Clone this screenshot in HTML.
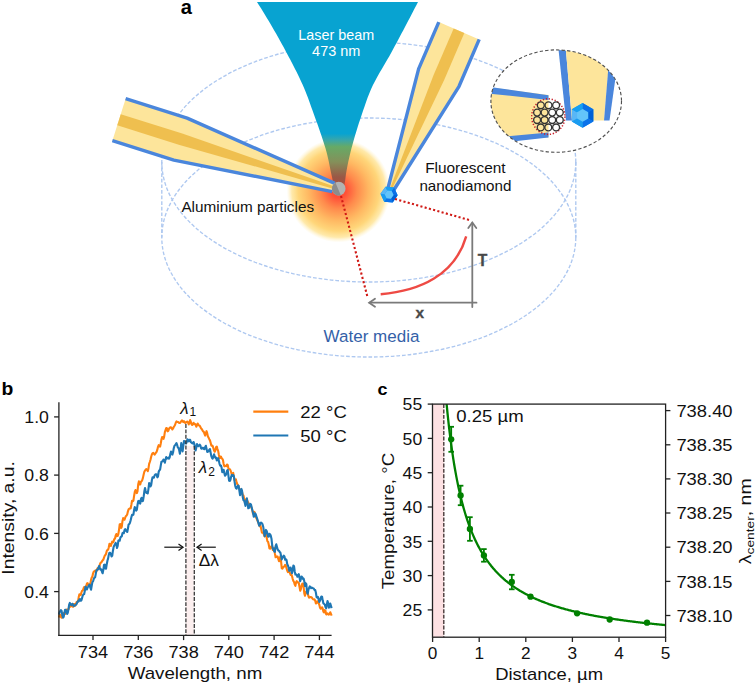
<!DOCTYPE html>
<html><head><meta charset="utf-8"><style>
html,body{margin:0;padding:0;background:#fff;}
svg{display:block;}
</style></head><body>
<svg width="755" height="686" viewBox="0 0 755 686">
<defs>
<radialGradient id="glow" cx="0.5" cy="0.5" r="0.5">
<stop offset="0" stop-color="#ff4232"/>
<stop offset="0.14" stop-color="#ff5038"/>
<stop offset="0.35" stop-color="#ff8a4c"/>
<stop offset="0.58" stop-color="#ffb862"/>
<stop offset="0.78" stop-color="#ffd67a"/>
<stop offset="0.9" stop-color="#ffe28e" stop-opacity="0.75"/>
<stop offset="1" stop-color="#fff0c0" stop-opacity="0"/>
</radialGradient>
<linearGradient id="beam" gradientUnits="userSpaceOnUse" x1="0" y1="2" x2="0" y2="190">
<stop offset="0" stop-color="#08a3d1"/>
<stop offset="0.70" stop-color="#08a3d1"/>
<stop offset="0.735" stop-color="#3aa6a8"/>
<stop offset="0.77" stop-color="#66aa66"/>
<stop offset="0.85" stop-color="#84905a"/>
<stop offset="0.93" stop-color="#9a5846"/>
<stop offset="1" stop-color="#b0483c"/>
</linearGradient>
</defs>
<rect width="755" height="686" fill="#fff"/>
<g fill="none" stroke="#aec8f0" stroke-width="1.35" stroke-dasharray="3.7 1.9">
<ellipse cx="368.8" cy="162" rx="207" ry="120"/>
<ellipse cx="368.8" cy="237.5" rx="207" ry="119.5"/>
<line x1="161.8" y1="162" x2="161.8" y2="237.5"/>
<line x1="575.8" y1="162" x2="575.8" y2="237.5"/>
</g>
<circle cx="338.6" cy="190.5" r="52" fill="url(#glow)"/>
<path d="M257.00,2.00 L259.01,5.19 L261.00,8.37 L262.98,11.56 L264.93,14.75 L266.86,17.93 L268.76,21.12 L270.65,24.31 L272.52,27.49 L274.36,30.68 L276.19,33.86 L277.99,37.05 L279.77,40.24 L281.54,43.42 L283.28,46.61 L285.00,49.80 L286.70,52.98 L288.39,56.17 L290.08,59.36 L291.75,62.54 L293.40,65.73 L295.03,68.92 L296.64,72.10 L298.21,75.29 L299.74,78.47 L301.23,81.66 L302.67,84.85 L304.07,88.03 L305.40,91.22 L306.67,94.41 L307.88,97.59 L309.05,100.78 L310.19,103.97 L311.32,107.15 L312.45,110.34 L313.59,113.53 L314.75,116.71 L315.91,119.90 L317.07,123.08 L318.21,126.27 L319.33,129.46 L320.42,132.64 L321.47,135.83 L322.53,139.02 L323.57,142.20 L324.59,145.39 L325.56,148.58 L326.46,151.76 L327.29,154.95 L328.03,158.14 L328.72,161.32 L329.37,164.51 L330.01,167.69 L330.65,170.88 L331.31,174.07 L332.03,177.25 L332.70,180.44 L333.25,183.63 L333.67,186.81 L334.00,190.00 L343.00,190.00 L343.90,186.81 L344.64,183.63 L345.16,180.44 L345.56,177.25 L345.98,174.07 L346.49,170.88 L347.07,167.69 L347.71,164.51 L348.38,161.32 L349.09,158.14 L349.82,154.95 L350.59,151.76 L351.40,148.58 L352.25,145.39 L353.14,142.20 L354.05,139.02 L354.98,135.83 L355.92,132.64 L356.90,129.46 L357.90,126.27 L358.92,123.08 L359.97,119.90 L361.04,116.71 L362.12,113.53 L363.21,110.34 L364.29,107.15 L365.38,103.97 L366.50,100.78 L367.66,97.59 L368.88,94.41 L370.18,91.22 L371.57,88.03 L373.08,84.85 L374.70,81.66 L376.40,78.47 L378.17,75.29 L379.99,72.10 L381.85,68.92 L383.72,65.73 L385.60,62.54 L387.47,59.36 L389.30,56.17 L391.08,52.98 L392.81,49.80 L394.52,46.61 L396.23,43.42 L397.94,40.24 L399.64,37.05 L401.33,33.86 L403.02,30.68 L404.71,27.49 L406.39,24.31 L408.06,21.12 L409.73,17.93 L411.40,14.75 L413.06,11.56 L414.71,8.37 L416.36,5.19 L418.00,2.00Z" fill="url(#beam)"/>
<path d="M125.63,98.72 L187.13,118.16 L334.80,183.40 L332.20,191.60 L173.87,160.12 L112.37,140.68Z" fill="#fde59b"/>
<path d="M120.75,114.17 L182.25,133.61 L333.86,186.36 L333.14,188.64 L178.75,144.67 L117.25,125.23Z" fill="#efbf4f"/>
<path d="M125.63,98.72 L187.13,118.16 L334.80,183.40" fill="none" stroke="#4a86dc" stroke-width="3.4" stroke-linejoin="round"/>
<path d="M112.37,140.68 L173.87,160.12 L332.20,191.60" fill="none" stroke="#4a86dc" stroke-width="3.4" stroke-linejoin="round"/>
<path d="M479.21,39.45 L459.05,86.29 L393.85,189.98 L388.15,187.52 L418.63,68.90 L438.79,22.05Z" fill="#fde59b"/>
<path d="M464.33,33.04 L444.17,79.89 L391.92,189.15 L390.08,188.35 L433.51,75.30 L453.67,28.46Z" fill="#efbf4f"/>
<path d="M479.21,39.45 L459.05,86.29 L393.85,189.98" fill="none" stroke="#4a86dc" stroke-width="3.4" stroke-linejoin="round"/>
<path d="M438.79,22.05 L418.63,68.90 L388.15,187.52" fill="none" stroke="#4a86dc" stroke-width="3.4" stroke-linejoin="round"/>
<g transform="translate(338.7,188.7)"><circle r="6.85" fill="#b2b2b2"/><path d="M-3.2,-6.05 A6.85,6.85 0 0 0 2.1,6.52 Z" fill="#8c8c8c"/></g>
<path d="M394.03,187.56 L397.67,195.35 L392.73,202.39 L384.17,201.64 L380.53,193.85 L385.47,186.81Z" fill="#1591ee"/>
<path d="M394.03,187.56 L397.67,195.35 L393.55,194.99 L391.67,190.94Z" fill="#0a6fe6"/>
<path d="M397.67,195.35 L392.73,202.39 L390.99,198.65 L393.55,194.99Z" fill="#0060d6"/>
<path d="M392.73,202.39 L384.17,201.64 L386.53,198.26 L390.99,198.65Z" fill="#0b72ea"/>
<path d="M384.17,201.64 L380.53,193.85 L384.65,194.21 L386.53,198.26Z" fill="#1a9cf0"/>
<path d="M380.53,193.85 L385.47,186.81 L387.21,190.55 L384.65,194.21Z" fill="#58b6f6"/>
<path d="M385.47,186.81 L394.03,187.56 L391.67,190.94 L387.21,190.55Z" fill="#16a0f2"/>
<path d="M391.67,190.94 L393.55,194.99 L390.99,198.65 L386.53,198.26 L384.65,194.21 L387.21,190.55Z" fill="#63c4fa"/>
<g stroke="#d01a16" stroke-width="2.1" stroke-dasharray="2.1 2.3" fill="none">
<line x1="341" y1="196" x2="367.5" y2="297"/>
<line x1="395" y1="199" x2="471" y2="220.5"/>
</g>
<g stroke="#7a7a7a" stroke-width="1.8" fill="none" stroke-linecap="round">
<line x1="472.3" y1="223" x2="472.3" y2="307"/>
<line x1="369.5" y1="302.7" x2="476.5" y2="302.7"/>
<polyline points="468.3,228 472.3,222.5 476.3,228"/>
<polyline points="375,298.7 369.2,302.7 375,306.7"/>
</g>
<path d="M380.7,294.2 C420,291 455,275 466.2,236.3" fill="none" stroke="#ee4a44" stroke-width="2.4"/>
<text x="482.6" y="265.7" font-family='"Liberation Sans", sans-serif' font-weight="bold" font-size="15.6" fill="#484848" stroke="#484848" stroke-width="0.35" text-anchor="middle">T</text>
<text x="419.8" y="317.5" font-family='"Liberation Sans", sans-serif' font-weight="bold" font-size="15.4" fill="#484848" stroke="#484848" stroke-width="0.35" text-anchor="middle">x</text>
<text x="186.3" y="14.4" font-family='"Liberation Sans", sans-serif' font-size="19.5" font-weight="bold" fill="#000" text-anchor="middle" textLength="11.2" lengthAdjust="spacingAndGlyphs" >a</text>
<text x="336.2" y="39.8" font-family='"Liberation Sans", sans-serif' font-size="14.5" font-weight="normal" fill="#fff" text-anchor="middle" textLength="75.8" lengthAdjust="spacingAndGlyphs" >Laser beam</text>
<text x="336.2" y="55.8" font-family='"Liberation Sans", sans-serif' font-size="14.5" font-weight="normal" fill="#fff" text-anchor="middle" textLength="48.2" lengthAdjust="spacingAndGlyphs" >473 nm</text>
<text x="181.4" y="211.9" font-family='"Liberation Sans", sans-serif' font-size="14.5" font-weight="normal" fill="#111" text-anchor="start" textLength="132.7" lengthAdjust="spacingAndGlyphs" >Aluminium particles</text>
<text x="465.4" y="172.6" font-family='"Liberation Sans", sans-serif' font-size="14.8" font-weight="normal" fill="#111" text-anchor="middle" textLength="80.5" lengthAdjust="spacingAndGlyphs" >Fluorescent</text>
<text x="465.4" y="190.5" font-family='"Liberation Sans", sans-serif' font-size="14.8" font-weight="normal" fill="#111" text-anchor="middle" textLength="92.0" lengthAdjust="spacingAndGlyphs" >nanodiamond</text>
<text x="371.5" y="341.8" font-family='"Liberation Sans", sans-serif' font-size="16.8" font-weight="normal" fill="#3461a8" text-anchor="middle" textLength="95.8" lengthAdjust="spacingAndGlyphs" >Water media</text>
<defs><clipPath id="ins"><ellipse cx="556.2" cy="101.1" rx="65.3" ry="51.2"/></clipPath></defs>
<ellipse cx="556.2" cy="101.1" rx="65.3" ry="51.2" fill="#fff"/>
<g clip-path="url(#ins)">
<path d="M480,86 L548.5,95 L548.5,137.5 L480,140 Z" fill="#fde59b"/>
<path d="M480,85.6 L548.5,95.2 L548.5,100 L480,92.6 Z" fill="#4a86dc"/>
<path d="M500,137 L548.5,132.4 L548.5,137.6 L500,143 Z" fill="#4a86dc"/>
<path d="M557.5,40 L565,40 L572,120.5 L566,120.5 Z" fill="#4a86dc"/>
<path d="M565,40 L611,40 L604,120.5 L572,120.5 Z" fill="#fde59b"/>
<path d="M609,60 L618,60 L609.5,120.5 L604,120.5 Z" fill="#4a86dc"/>
</g>
<ellipse cx="556.2" cy="101.1" rx="65.3" ry="51.2" fill="none" stroke="#505050" stroke-width="1.15" stroke-dasharray="3.3 2.2"/>
<ellipse cx="548.3" cy="116.6" rx="16.6" ry="17.8" fill="none" stroke="#c8202a" stroke-width="1.5" stroke-dasharray="1.3 1.7"/>
<g fill="none" stroke="#333" stroke-width="1.35">
<circle cx="540.8" cy="105.3" r="3.45"/>
<circle cx="548.5" cy="105.3" r="3.45"/>
<circle cx="556.1" cy="105.3" r="3.45"/>
<circle cx="537.1" cy="112.6" r="3.45"/>
<circle cx="544.6" cy="112.6" r="3.45"/>
<circle cx="552.2" cy="112.6" r="3.45"/>
<circle cx="559.8" cy="112.6" r="3.45"/>
<circle cx="537.1" cy="120.0" r="3.45"/>
<circle cx="544.6" cy="120.0" r="3.45"/>
<circle cx="552.2" cy="120.0" r="3.45"/>
<circle cx="559.8" cy="120.0" r="3.45"/>
<circle cx="540.7" cy="127.4" r="3.45"/>
<circle cx="548.3" cy="127.4" r="3.45"/>
<circle cx="556.1" cy="127.4" r="3.45"/>
</g>
<path d="M582.60,103.00 L593.34,109.20 L593.34,121.60 L582.60,127.80 L571.86,121.60 L571.86,109.20Z" fill="#1591ee"/>
<path d="M582.60,103.00 L593.34,109.20 L588.18,112.18 L582.60,108.95Z" fill="#0a6fe6"/>
<path d="M593.34,109.20 L593.34,121.60 L588.18,118.62 L588.18,112.18Z" fill="#0060d6"/>
<path d="M593.34,121.60 L582.60,127.80 L582.60,121.85 L588.18,118.62Z" fill="#0b72ea"/>
<path d="M582.60,127.80 L571.86,121.60 L577.02,118.62 L582.60,121.85Z" fill="#1a9cf0"/>
<path d="M571.86,121.60 L571.86,109.20 L577.02,112.18 L577.02,118.62Z" fill="#58b6f6"/>
<path d="M571.86,109.20 L582.60,103.00 L582.60,108.95 L577.02,112.18Z" fill="#16a0f2"/>
<path d="M582.60,108.95 L588.18,112.18 L588.18,118.62 L582.60,121.85 L577.02,118.62 L577.02,112.18Z" fill="#63c4fa"/>
<rect x="185.82" y="445.9" width="7.92" height="189.4" fill="#fcefef"/>
<path d="M58.90,617.59 L59.59,614.74 L60.27,614.70 L60.95,617.02 L61.64,617.71 L62.32,616.30 L63.01,614.45 L63.69,613.20 L64.37,613.91 L65.06,614.05 L65.74,611.09 L66.42,609.61 L67.11,609.68 L67.79,609.89 L68.47,609.53 L69.16,607.19 L69.84,605.94 L70.52,606.59 L71.21,605.87 L71.89,604.91 L72.57,606.64 L73.26,606.63 L73.94,603.96 L74.62,604.40 L75.31,605.69 L75.99,603.68 L76.68,601.87 L77.36,602.22 L78.04,601.15 L78.73,597.09 L79.41,594.33 L80.09,595.08 L80.78,595.04 L81.46,592.29 L82.14,590.67 L82.83,590.47 L83.51,588.49 L84.19,587.00 L84.88,588.31 L85.56,588.46 L86.24,586.05 L86.93,583.47 L87.61,583.14 L88.30,585.00 L88.98,585.13 L89.66,584.64 L90.35,583.70 L91.03,579.83 L91.71,577.56 L92.40,576.50 L93.08,573.32 L93.76,571.54 L94.45,571.48 L95.13,570.47 L95.81,570.60 L96.50,571.31 L97.18,568.80 L97.86,568.07 L98.55,569.25 L99.23,567.02 L99.91,564.17 L100.60,562.81 L101.28,562.52 L101.97,561.38 L102.65,560.28 L103.33,559.63 L104.02,557.55 L104.70,555.79 L105.38,555.05 L106.07,553.70 L106.75,551.00 L107.43,549.91 L108.12,549.77 L108.80,547.27 L109.48,543.78 L110.17,544.01 L110.85,546.04 L111.53,543.81 L112.22,541.63 L112.90,542.51 L113.59,541.35 L114.27,539.12 L114.95,538.66 L115.64,535.73 L116.32,534.09 L117.00,536.07 L117.69,535.90 L118.37,533.84 L119.05,529.56 L119.74,524.18 L120.42,524.14 L121.10,527.92 L121.79,526.63 L122.47,521.19 L123.15,518.14 L123.84,518.99 L124.52,519.70 L125.20,517.72 L125.89,516.05 L126.57,515.64 L127.26,514.25 L127.94,511.32 L128.62,509.30 L129.31,508.64 L129.99,508.59 L130.67,508.30 L131.36,504.78 L132.04,500.76 L132.72,501.23 L133.41,500.61 L134.09,495.95 L134.77,491.95 L135.46,490.08 L136.14,491.13 L136.82,493.09 L137.51,491.26 L138.19,484.59 L138.88,481.37 L139.56,484.47 L140.24,484.47 L140.93,481.83 L141.61,481.18 L142.29,479.97 L142.98,477.61 L143.66,474.41 L144.34,471.78 L145.03,470.57 L145.71,469.61 L146.39,469.03 L147.08,469.57 L147.76,471.17 L148.44,468.71 L149.13,463.96 L149.81,461.98 L150.49,459.78 L151.18,456.75 L151.86,454.50 L152.55,453.17 L153.23,452.91 L153.91,453.89 L154.60,454.63 L155.28,453.70 L155.96,452.60 L156.65,451.76 L157.33,449.68 L158.01,446.87 L158.70,445.21 L159.38,446.16 L160.06,446.69 L160.75,443.47 L161.43,439.49 L162.11,437.10 L162.80,437.26 L163.48,438.89 L164.17,436.71 L164.85,432.13 L165.53,430.06 L166.22,428.10 L166.90,428.33 L167.58,431.31 L168.27,430.89 L168.95,428.82 L169.63,427.82 L170.32,427.32 L171.00,427.24 L171.68,428.36 L172.37,429.50 L173.05,428.52 L173.73,427.01 L174.42,425.96 L175.10,424.76 L175.78,422.72 L176.47,421.41 L177.15,421.70 L177.84,421.94 L178.52,422.45 L179.20,423.03 L179.89,423.01 L180.57,422.33 L181.25,421.19 L181.94,420.40 L182.62,421.26 L183.30,422.05 L183.99,421.22 L184.67,422.10 L185.35,423.01 L186.04,422.39 L186.72,421.87 L187.40,421.54 L188.09,422.85 L188.77,424.43 L189.46,422.76 L190.14,420.12 L190.82,421.75 L191.51,424.22 L192.19,424.89 L192.87,424.00 L193.56,422.78 L194.24,424.29 L194.92,424.04 L195.61,424.37 L196.29,426.74 L196.97,425.32 L197.66,423.57 L198.34,424.62 L199.02,425.43 L199.71,425.71 L200.39,426.97 L201.07,428.42 L201.76,429.10 L202.44,430.27 L203.13,431.58 L203.81,431.82 L204.49,433.88 L205.18,435.58 L205.86,433.22 L206.54,431.13 L207.23,433.42 L207.91,436.48 L208.59,437.57 L209.28,439.18 L209.96,440.38 L210.64,442.80 L211.33,445.62 L212.01,445.41 L212.69,446.09 L213.38,448.29 L214.06,450.45 L214.74,451.76 L215.43,450.33 L216.11,447.09 L216.80,446.65 L217.48,449.00 L218.16,450.83 L218.85,454.78 L219.53,458.18 L220.21,456.89 L220.90,456.48 L221.58,458.26 L222.26,458.66 L222.95,459.96 L223.63,463.93 L224.31,466.31 L225.00,465.81 L225.68,465.98 L226.36,466.20 L227.05,464.50 L227.73,465.07 L228.42,468.36 L229.10,469.23 L229.78,469.19 L230.47,470.25 L231.15,472.28 L231.83,474.67 L232.52,473.99 L233.20,472.98 L233.88,476.40 L234.57,480.04 L235.25,479.72 L235.93,479.44 L236.62,482.40 L237.30,484.12 L237.98,484.85 L238.67,487.51 L239.35,488.49 L240.03,490.04 L240.72,491.59 L241.40,490.31 L242.09,492.20 L242.77,495.20 L243.45,495.49 L244.14,498.18 L244.82,501.74 L245.50,501.23 L246.19,499.33 L246.87,499.43 L247.55,501.19 L248.24,502.62 L248.92,503.76 L249.60,504.56 L250.29,504.82 L250.97,506.49 L251.65,508.14 L252.34,510.21 L253.02,513.73 L253.71,513.82 L254.39,511.92 L255.07,513.87 L255.76,516.75 L256.44,518.24 L257.12,519.81 L257.81,521.38 L258.49,522.91 L259.17,525.09 L259.86,526.36 L260.54,525.92 L261.22,528.94 L261.91,532.64 L262.59,532.74 L263.27,532.77 L263.96,534.52 L264.64,536.39 L265.32,533.40 L266.01,532.07 L266.69,537.77 L267.38,541.14 L268.06,541.75 L268.74,544.49 L269.43,548.26 L270.11,548.72 L270.79,547.00 L271.48,546.23 L272.16,546.99 L272.84,550.04 L273.53,549.32 L274.21,548.13 L274.89,553.42 L275.58,557.23 L276.26,556.94 L276.94,556.50 L277.63,556.64 L278.31,558.94 L279.00,561.30 L279.68,559.28 L280.36,556.39 L281.05,561.19 L281.73,568.13 L282.41,568.66 L283.10,567.27 L283.78,566.93 L284.46,566.09 L285.15,564.89 L285.83,565.73 L286.51,568.17 L287.20,570.51 L287.88,572.05 L288.56,571.60 L289.25,571.11 L289.93,573.21 L290.61,574.82 L291.30,574.51 L291.98,576.02 L292.67,578.85 L293.35,580.93 L294.03,582.00 L294.72,584.58 L295.40,585.84 L296.08,582.22 L296.77,581.12 L297.45,582.52 L298.13,582.27 L298.82,583.02 L299.50,586.89 L300.18,590.68 L300.87,589.31 L301.55,585.79 L302.23,583.75 L302.92,583.48 L303.60,586.97 L304.29,593.46 L304.97,595.82 L305.65,593.06 L306.34,591.47 L307.02,591.96 L307.70,593.45 L308.39,595.99 L309.07,597.69 L309.75,597.26 L310.44,597.11 L311.12,597.09 L311.80,597.40 L312.49,598.62 L313.17,599.33 L313.85,599.53 L314.54,599.37 L315.22,600.74 L315.90,603.50 L316.59,603.12 L317.27,601.35 L317.96,602.25 L318.64,603.13 L319.32,604.71 L320.01,607.71 L320.69,608.76 L321.37,607.92 L322.06,607.25 L322.74,608.78 L323.42,611.80 L324.11,612.46 L324.79,610.13 L325.47,610.81 L326.16,614.41 L326.84,614.44 L327.52,613.46 L328.21,614.02 L328.89,614.62 L329.58,613.47 L330.26,612.26 L330.94,613.83 L331.63,615.69" fill="none" stroke="#ff7f0e" stroke-width="2.1" stroke-linejoin="round"/>
<path d="M58.90,614.57 L59.59,612.11 L60.27,611.22 L60.95,610.17 L61.64,610.98 L62.32,615.41 L63.01,617.71 L63.69,616.78 L64.37,613.00 L65.06,609.71 L65.74,609.69 L66.42,611.96 L67.11,614.04 L67.79,612.74 L68.47,609.12 L69.16,604.56 L69.84,602.86 L70.52,604.33 L71.21,605.21 L71.89,604.15 L72.57,603.80 L73.26,605.62 L73.94,606.05 L74.62,605.24 L75.31,605.24 L75.99,604.74 L76.68,603.82 L77.36,602.04 L78.04,601.10 L78.73,601.31 L79.41,599.36 L80.09,599.07 L80.78,600.74 L81.46,600.34 L82.14,597.80 L82.83,595.32 L83.51,594.45 L84.19,594.07 L84.88,590.61 L85.56,586.66 L86.24,588.23 L86.93,589.52 L87.61,587.50 L88.30,586.52 L88.98,585.18 L89.66,584.57 L90.35,587.77 L91.03,589.76 L91.71,585.89 L92.40,582.10 L93.08,581.33 L93.76,578.92 L94.45,577.52 L95.13,577.40 L95.81,573.61 L96.50,570.27 L97.18,569.99 L97.86,569.50 L98.55,567.20 L99.23,565.97 L99.91,568.63 L100.60,569.73 L101.28,569.27 L101.97,571.79 L102.65,573.22 L103.33,569.88 L104.02,564.99 L104.70,564.56 L105.38,568.45 L106.07,568.68 L106.75,564.19 L107.43,560.80 L108.12,558.38 L108.80,554.78 L109.48,552.69 L110.17,552.79 L110.85,553.92 L111.53,556.42 L112.22,555.81 L112.90,550.97 L113.59,547.10 L114.27,545.45 L114.95,544.31 L115.64,542.82 L116.32,544.35 L117.00,547.93 L117.69,545.97 L118.37,540.67 L119.05,540.22 L119.74,540.65 L120.42,537.53 L121.10,536.71 L121.79,536.32 L122.47,533.13 L123.15,532.77 L123.84,533.26 L124.52,530.00 L125.20,529.07 L125.89,530.31 L126.57,531.14 L127.26,531.99 L127.94,528.43 L128.62,524.51 L129.31,523.94 L129.99,522.64 L130.67,520.30 L131.36,517.26 L132.04,514.74 L132.72,515.07 L133.41,514.65 L134.09,510.02 L134.77,507.07 L135.46,508.67 L136.14,510.67 L136.82,509.88 L137.51,505.05 L138.19,501.20 L138.88,500.79 L139.56,503.13 L140.24,503.54 L140.93,499.09 L141.61,497.77 L142.29,501.15 L142.98,500.95 L143.66,496.64 L144.34,491.34 L145.03,488.08 L145.71,491.00 L146.39,492.82 L147.08,492.31 L147.76,493.29 L148.44,489.11 L149.13,483.14 L149.81,483.65 L150.49,486.38 L151.18,485.11 L151.86,480.27 L152.55,477.20 L153.23,477.61 L153.91,477.59 L154.60,475.47 L155.28,474.56 L155.96,474.28 L156.65,474.54 L157.33,477.31 L158.01,476.32 L158.70,471.74 L159.38,470.28 L160.06,469.71 L160.75,465.56 L161.43,461.80 L162.11,461.60 L162.80,461.13 L163.48,459.50 L164.17,460.62 L164.85,462.67 L165.53,459.62 L166.22,456.97 L166.90,458.60 L167.58,458.30 L168.27,457.70 L168.95,458.72 L169.63,457.49 L170.32,454.01 L171.00,451.47 L171.68,452.56 L172.37,454.61 L173.05,452.54 L173.73,448.37 L174.42,445.93 L175.10,445.10 L175.78,444.18 L176.47,443.16 L177.15,444.89 L177.84,447.54 L178.52,447.87 L179.20,450.18 L179.89,453.77 L180.57,449.34 L181.25,443.16 L181.94,447.25 L182.62,451.42 L183.30,446.18 L183.99,440.96 L184.67,441.46 L185.35,442.86 L186.04,443.58 L186.72,442.27 L187.40,439.38 L188.09,439.90 L188.77,441.34 L189.46,439.89 L190.14,439.87 L190.82,442.16 L191.51,442.63 L192.19,443.28 L192.87,443.47 L193.56,442.00 L194.24,443.65 L194.92,447.68 L195.61,450.41 L196.29,447.68 L196.97,444.08 L197.66,445.50 L198.34,446.19 L199.02,445.53 L199.71,444.66 L200.39,445.40 L201.07,448.33 L201.76,448.77 L202.44,447.71 L203.13,447.83 L203.81,448.95 L204.49,449.17 L205.18,447.01 L205.86,445.73 L206.54,448.77 L207.23,451.89 L207.91,451.69 L208.59,451.27 L209.28,449.72 L209.96,449.05 L210.64,452.63 L211.33,456.22 L212.01,457.99 L212.69,458.62 L213.38,456.74 L214.06,454.23 L214.74,456.46 L215.43,457.83 L216.11,457.56 L216.80,460.44 L217.48,459.73 L218.16,458.11 L218.85,460.73 L219.53,463.84 L220.21,465.58 L220.90,465.44 L221.58,467.53 L222.26,472.20 L222.95,471.69 L223.63,469.75 L224.31,473.01 L225.00,475.80 L225.68,475.08 L226.36,473.54 L227.05,470.74 L227.73,470.01 L228.42,475.68 L229.10,480.82 L229.78,480.91 L230.47,479.68 L231.15,476.58 L231.83,474.94 L232.52,475.95 L233.20,475.15 L233.88,476.32 L234.57,481.65 L235.25,486.00 L235.93,488.15 L236.62,488.64 L237.30,486.74 L237.98,485.53 L238.67,485.96 L239.35,490.64 L240.03,495.12 L240.72,492.39 L241.40,488.91 L242.09,491.00 L242.77,497.29 L243.45,500.17 L244.14,500.19 L244.82,503.11 L245.50,505.92 L246.19,502.44 L246.87,498.39 L247.55,503.17 L248.24,508.28 L248.92,508.01 L249.60,505.92 L250.29,503.91 L250.97,504.50 L251.65,507.24 L252.34,510.12 L253.02,512.75 L253.71,516.59 L254.39,516.50 L255.07,513.26 L255.76,514.33 L256.44,516.46 L257.12,518.68 L257.81,520.87 L258.49,523.27 L259.17,525.78 L259.86,524.73 L260.54,522.71 L261.22,522.61 L261.91,523.33 L262.59,524.42 L263.27,526.92 L263.96,531.82 L264.64,536.14 L265.32,533.72 L266.01,529.91 L266.69,531.08 L267.38,533.40 L268.06,536.54 L268.74,536.66 L269.43,533.85 L270.11,534.32 L270.79,535.77 L271.48,538.67 L272.16,544.99 L272.84,548.77 L273.53,548.52 L274.21,551.41 L274.89,551.81 L275.58,546.07 L276.26,544.30 L276.94,546.73 L277.63,549.25 L278.31,550.54 L279.00,550.81 L279.68,551.92 L280.36,552.56 L281.05,555.74 L281.73,559.41 L282.41,558.00 L283.10,556.81 L283.78,555.63 L284.46,556.38 L285.15,559.68 L285.83,559.10 L286.51,559.84 L287.20,564.01 L287.88,565.46 L288.56,567.35 L289.25,570.84 L289.93,569.52 L290.61,567.54 L291.30,570.44 L291.98,573.27 L292.67,570.38 L293.35,565.54 L294.03,566.24 L294.72,571.42 L295.40,574.56 L296.08,574.26 L296.77,574.84 L297.45,576.78 L298.13,576.43 L298.82,574.19 L299.50,577.03 L300.18,581.29 L300.87,578.98 L301.55,576.51 L302.23,577.22 L302.92,578.95 L303.60,578.57 L304.29,581.32 L304.97,586.07 L305.65,583.15 L306.34,584.16 L307.02,592.17 L307.70,593.71 L308.39,590.01 L309.07,587.98 L309.75,586.42 L310.44,586.98 L311.12,588.08 L311.80,587.47 L312.49,588.07 L313.17,588.29 L313.85,588.71 L314.54,589.92 L315.22,590.09 L315.90,592.73 L316.59,597.15 L317.27,597.59 L317.96,596.92 L318.64,599.41 L319.32,602.00 L320.01,600.63 L320.69,598.15 L321.37,596.53 L322.06,596.73 L322.74,600.59 L323.42,603.48 L324.11,603.95 L324.79,604.50 L325.47,606.99 L326.16,608.34 L326.84,604.54 L327.52,600.95 L328.21,603.11 L328.89,607.70 L329.58,606.45 L330.26,603.57 L330.94,605.86 L331.63,608.12" fill="none" stroke="#1f77b4" stroke-width="2.1" stroke-linejoin="round"/>
<g stroke="#383838" stroke-width="1.3" stroke-dasharray="3.9 1.5">
<line x1="185.9" y1="424" x2="185.9" y2="635.3"/>
<line x1="194.3" y1="445.9" x2="194.3" y2="635.3"/>
</g>
<g stroke="#222" stroke-width="1.3" fill="none">
<line x1="58.9" y1="402.2" x2="58.9" y2="635.9"/>
<line x1="58.3" y1="635.3" x2="331.6" y2="635.3"/>
<line x1="54.1" y1="591.6" x2="58.9" y2="591.6"/>
<line x1="54.1" y1="533.4" x2="58.9" y2="533.4"/>
<line x1="54.1" y1="475.1" x2="58.9" y2="475.1"/>
<line x1="54.1" y1="416.9" x2="58.9" y2="416.9"/>
<line x1="93.0" y1="635.3" x2="93.0" y2="640.0999999999999"/>
<line x1="138.3" y1="635.3" x2="138.3" y2="640.0999999999999"/>
<line x1="183.6" y1="635.3" x2="183.6" y2="640.0999999999999"/>
<line x1="228.8" y1="635.3" x2="228.8" y2="640.0999999999999"/>
<line x1="274.1" y1="635.3" x2="274.1" y2="640.0999999999999"/>
<line x1="319.4" y1="635.3" x2="319.4" y2="640.0999999999999"/>
</g>
<text x="48.9" y="597.8" font-family='"Liberation Sans", sans-serif' font-size="16.8" font-weight="normal" fill="#111" text-anchor="end" textLength="24.6" lengthAdjust="spacingAndGlyphs" >0.4</text>
<text x="48.9" y="539.6" font-family='"Liberation Sans", sans-serif' font-size="16.8" font-weight="normal" fill="#111" text-anchor="end" textLength="24.6" lengthAdjust="spacingAndGlyphs" >0.6</text>
<text x="48.9" y="481.3" font-family='"Liberation Sans", sans-serif' font-size="16.8" font-weight="normal" fill="#111" text-anchor="end" textLength="24.6" lengthAdjust="spacingAndGlyphs" >0.8</text>
<text x="48.9" y="423.1" font-family='"Liberation Sans", sans-serif' font-size="16.8" font-weight="normal" fill="#111" text-anchor="end" textLength="24.6" lengthAdjust="spacingAndGlyphs" >1.0</text>
<text x="93.0" y="657.8" font-family='"Liberation Sans", sans-serif' font-size="16.8" font-weight="normal" fill="#111" text-anchor="middle" textLength="30.3" lengthAdjust="spacingAndGlyphs" >734</text>
<text x="138.3" y="657.8" font-family='"Liberation Sans", sans-serif' font-size="16.8" font-weight="normal" fill="#111" text-anchor="middle" textLength="30.3" lengthAdjust="spacingAndGlyphs" >736</text>
<text x="183.6" y="657.8" font-family='"Liberation Sans", sans-serif' font-size="16.8" font-weight="normal" fill="#111" text-anchor="middle" textLength="30.3" lengthAdjust="spacingAndGlyphs" >738</text>
<text x="228.8" y="657.8" font-family='"Liberation Sans", sans-serif' font-size="16.8" font-weight="normal" fill="#111" text-anchor="middle" textLength="30.3" lengthAdjust="spacingAndGlyphs" >740</text>
<text x="274.1" y="657.8" font-family='"Liberation Sans", sans-serif' font-size="16.8" font-weight="normal" fill="#111" text-anchor="middle" textLength="30.3" lengthAdjust="spacingAndGlyphs" >742</text>
<text x="319.4" y="657.8" font-family='"Liberation Sans", sans-serif' font-size="16.8" font-weight="normal" fill="#111" text-anchor="middle" textLength="30.3" lengthAdjust="spacingAndGlyphs" >744</text>
<text x="195.0" y="678.9" font-family='"Liberation Sans", sans-serif' font-size="16.6" font-weight="normal" fill="#111" text-anchor="middle" textLength="134.6" lengthAdjust="spacingAndGlyphs" >Wavelength, nm</text>
<text x="0.0" y="0.0" font-family='"Liberation Sans", sans-serif' font-size="16.6" font-weight="normal" fill="#111" text-anchor="middle" textLength="113.5" lengthAdjust="spacingAndGlyphs" transform="translate(14.4,517.9) rotate(-90)">Intensity, a.u.</text>
<text x="7.5" y="394.8" font-family='"Liberation Sans", sans-serif' font-size="18.6" font-weight="bold" fill="#000" text-anchor="middle" textLength="11.8" lengthAdjust="spacingAndGlyphs" >b</text>
<line x1="253.3" y1="411.6" x2="288.3" y2="411.6" stroke="#ff7f0e" stroke-width="2.1"/>
<line x1="253.3" y1="435.5" x2="288.3" y2="435.5" stroke="#1f77b4" stroke-width="2.1"/>
<text x="300.3" y="418.2" font-family='"Liberation Sans", sans-serif' font-size="16.8" font-weight="normal" fill="#111" text-anchor="start" textLength="46.5" lengthAdjust="spacingAndGlyphs" >22 °C</text>
<text x="300.3" y="442.1" font-family='"Liberation Sans", sans-serif' font-size="16.8" font-weight="normal" fill="#111" text-anchor="start" textLength="46.5" lengthAdjust="spacingAndGlyphs" >50 °C</text>
<text x="180.2" y="413.6" font-family='"Liberation Sans", sans-serif' font-size="17" font-style="italic" fill="#111">λ<tspan font-size="12" dx="1" dy="2.3" font-style="normal">1</tspan></text>
<text x="198.8" y="473.2" font-family='"Liberation Sans", sans-serif' font-size="17" font-style="italic" fill="#111">λ<tspan font-size="12" dx="1" dy="2.3" font-style="normal">2</tspan></text>
<text x="198.8" y="566.2" font-family='"Liberation Sans", sans-serif' font-size="16.8" font-weight="normal" fill="#111" text-anchor="start" textLength="20.2" lengthAdjust="spacingAndGlyphs" >Δλ</text>
<g stroke="#111" stroke-width="1.2" fill="none">
<line x1="164.3" y1="547.2" x2="182.6" y2="547.2"/><polyline points="178.5,544 183.1,547.2 178.5,550.4"/>
<line x1="197.5" y1="547.2" x2="215.8" y2="547.2"/><polyline points="201.6,544 197,547.2 201.6,550.4"/>
</g>
<rect x="432.5" y="404.1" width="11.30" height="233.1" fill="#fde1e3"/>
<line x1="443.8" y1="404.1" x2="443.8" y2="637.2" stroke="#3a2c2c" stroke-width="1.3" stroke-dasharray="3.9 1.5"/>
<defs><clipPath id="cbox"><rect x="432.5" y="404.1" width="233.10000000000002" height="233.10000000000002"/></clipPath></defs>
<path clip-path="url(#cbox)" d="M446.11,398.65 L446.85,406.47 L447.58,413.82 L448.32,420.75 L449.05,427.29 L449.78,433.47 L450.52,439.33 L451.25,444.87 L451.99,450.14 L452.72,455.14 L453.45,459.91 L454.19,464.45 L454.92,468.77 L455.66,472.91 L456.39,476.86 L457.13,480.64 L457.86,484.25 L458.59,487.72 L459.33,491.05 L460.06,494.24 L460.80,497.31 L461.53,500.26 L462.26,503.10 L463.00,505.84 L463.73,508.47 L464.47,511.01 L465.20,513.47 L465.93,515.83 L466.67,518.12 L467.40,520.33 L468.14,522.46 L468.87,524.53 L469.60,526.53 L470.34,528.47 L471.07,530.35 L471.81,532.17 L472.54,533.93 L473.27,535.65 L474.01,537.31 L474.74,538.93 L475.48,540.50 L476.21,542.02 L476.94,543.51 L477.68,544.95 L478.41,546.36 L479.15,547.72 L479.88,549.05 L480.62,550.35 L481.35,551.61 L482.08,552.84 L482.82,554.05 L483.55,555.22 L484.29,556.36 L485.02,557.47 L485.75,558.56 L486.49,559.63 L487.22,560.66 L487.96,561.68 L488.69,562.67 L489.42,563.64 L490.16,564.58 L490.89,565.51 L491.63,566.42 L492.36,567.30 L493.09,568.17 L493.83,569.02 L494.56,569.85 L495.30,570.67 L496.03,571.46 L496.76,572.24 L497.50,573.01 L498.23,573.76 L498.97,574.50 L499.70,575.22 L500.43,575.92 L501.17,576.62 L501.90,577.30 L502.64,577.97 L503.37,578.62 L504.11,579.26 L504.84,579.90 L505.57,580.52 L506.31,581.12 L507.04,581.72 L507.78,582.31 L508.51,582.89 L509.24,583.45 L509.98,584.01 L510.71,584.56 L511.45,585.10 L512.18,585.62 L512.91,586.14 L513.65,586.66 L514.38,587.16 L515.12,587.65 L515.85,588.14 L516.58,588.62 L517.32,589.09 L518.05,589.56 L518.79,590.01 L519.52,590.46 L520.25,590.91 L520.99,591.34 L521.72,591.77 L522.46,592.19 L523.19,592.61 L523.93,593.02 L524.66,593.43 L525.39,593.82 L526.13,594.22 L526.86,594.60 L527.60,594.98 L528.33,595.36 L529.06,595.73 L529.80,596.10 L530.53,596.46 L531.27,596.81 L532.00,597.16 L532.73,597.51 L533.47,597.85 L534.20,598.18 L534.94,598.52 L535.67,598.84 L536.40,599.17 L537.14,599.48 L537.87,599.80 L538.61,600.11 L539.34,600.42 L540.07,600.72 L540.81,601.02 L541.54,601.31 L542.28,601.60 L543.01,601.89 L543.74,602.17 L544.48,602.45 L545.21,602.73 L545.95,603.00 L546.68,603.27 L547.42,603.54 L548.15,603.80 L548.88,604.07 L549.62,604.32 L550.35,604.58 L551.09,604.83 L551.82,605.08 L552.55,605.32 L553.29,605.56 L554.02,605.80 L554.76,606.04 L555.49,606.28 L556.22,606.51 L556.96,606.74 L557.69,606.96 L558.43,607.19 L559.16,607.41 L559.89,607.63 L560.63,607.85 L561.36,608.06 L562.10,608.27 L562.83,608.48 L563.56,608.69 L564.30,608.89 L565.03,609.10 L565.77,609.30 L566.50,609.50 L567.24,609.69 L567.97,609.89 L568.70,610.08 L569.44,610.27 L570.17,610.46 L570.91,610.65 L571.64,610.83 L572.37,611.02 L573.11,611.20 L573.84,611.38 L574.58,611.56 L575.31,611.73 L576.04,611.91 L576.78,612.08 L577.51,612.25 L578.25,612.42 L578.98,612.59 L579.71,612.75 L580.45,612.92 L581.18,613.08 L581.92,613.24 L582.65,613.40 L583.38,613.56 L584.12,613.71 L584.85,613.87 L585.59,614.02 L586.32,614.18 L587.05,614.33 L587.79,614.48 L588.52,614.62 L589.26,614.77 L589.99,614.92 L590.73,615.06 L591.46,615.20 L592.19,615.35 L592.93,615.49 L593.66,615.63 L594.40,615.76 L595.13,615.90 L595.86,616.04 L596.60,616.17 L597.33,616.30 L598.07,616.43 L598.80,616.57 L599.53,616.70 L600.27,616.82 L601.00,616.95 L601.74,617.08 L602.47,617.20 L603.20,617.33 L603.94,617.45 L604.67,617.57 L605.41,617.70 L606.14,617.82 L606.87,617.94 L607.61,618.05 L608.34,618.17 L609.08,618.29 L609.81,618.40 L610.54,618.52 L611.28,618.63 L612.01,618.74 L612.75,618.86 L613.48,618.97 L614.22,619.08 L614.95,619.19 L615.68,619.29 L616.42,619.40 L617.15,619.51 L617.89,619.61 L618.62,619.72 L619.35,619.82 L620.09,619.93 L620.82,620.03 L621.56,620.13 L622.29,620.23 L623.02,620.33 L623.76,620.43 L624.49,620.53 L625.23,620.63 L625.96,620.73 L626.69,620.82 L627.43,620.92 L628.16,621.02 L628.90,621.11 L629.63,621.20 L630.36,621.30 L631.10,621.39 L631.83,621.48 L632.57,621.57 L633.30,621.66 L634.04,621.75 L634.77,621.84 L635.50,621.93 L636.24,622.02 L636.97,622.11 L637.71,622.19 L638.44,622.28 L639.17,622.36 L639.91,622.45 L640.64,622.53 L641.38,622.62 L642.11,622.70 L642.84,622.78 L643.58,622.86 L644.31,622.95 L645.05,623.03 L645.78,623.11 L646.51,623.19 L647.25,623.27 L647.98,623.35 L648.72,623.42 L649.45,623.50 L650.18,623.58 L650.92,623.66 L651.65,623.73 L652.39,623.81 L653.12,623.88 L653.85,623.96 L654.59,624.03 L655.32,624.10 L656.06,624.18 L656.79,624.25 L657.53,624.32 L658.26,624.39 L658.99,624.47 L659.73,624.54 L660.46,624.61 L661.20,624.68 L661.93,624.75 L662.66,624.82 L663.40,624.88 L664.13,624.95 L664.87,625.02 L665.60,625.09" fill="none" stroke="#008000" stroke-width="2.3"/>
<g fill="#008000" stroke="#008000" stroke-width="1.8">
<line x1="451.2" y1="426.8" x2="451.2" y2="451.8"/>
<line x1="448.4" y1="426.8" x2="454.0" y2="426.8"/>
<line x1="448.4" y1="451.8" x2="454.0" y2="451.8"/>
<circle cx="451.2" cy="439.3" r="3.15" stroke="none"/>
<line x1="460.6" y1="485.7" x2="460.6" y2="505.2"/>
<line x1="457.8" y1="485.7" x2="463.4" y2="485.7"/>
<line x1="457.8" y1="505.2" x2="463.4" y2="505.2"/>
<circle cx="460.6" cy="495.5" r="3.15" stroke="none"/>
<line x1="469.9" y1="517.2" x2="469.9" y2="540.8"/>
<line x1="467.1" y1="517.2" x2="472.7" y2="517.2"/>
<line x1="467.1" y1="540.8" x2="472.7" y2="540.8"/>
<circle cx="469.9" cy="529.0" r="3.15" stroke="none"/>
<line x1="483.9" y1="549.1" x2="483.9" y2="561.7"/>
<line x1="481.1" y1="549.1" x2="486.7" y2="549.1"/>
<line x1="481.1" y1="561.7" x2="486.7" y2="561.7"/>
<circle cx="483.9" cy="555.4" r="3.15" stroke="none"/>
<line x1="511.8" y1="574.8" x2="511.8" y2="589.3"/>
<line x1="509.0" y1="574.8" x2="514.6" y2="574.8"/>
<line x1="509.0" y1="589.3" x2="514.6" y2="589.3"/>
<circle cx="511.8" cy="582.0" r="3.15" stroke="none"/>
<circle cx="530.5" cy="596.7" r="3.15" stroke="none"/>
<circle cx="577.1" cy="613.3" r="3.15" stroke="none"/>
<circle cx="609.7" cy="619.5" r="3.15" stroke="none"/>
<circle cx="647.0" cy="622.7" r="3.15" stroke="none"/>
</g>
<g stroke="#222" stroke-width="1.3" fill="none">
<rect x="432.5" y="404.1" width="233.1" height="233.1"/>
<line x1="427.7" y1="609.9" x2="432.5" y2="609.9"/>
<line x1="427.7" y1="575.6" x2="432.5" y2="575.6"/>
<line x1="427.7" y1="541.3" x2="432.5" y2="541.3"/>
<line x1="427.7" y1="507.0" x2="432.5" y2="507.0"/>
<line x1="427.7" y1="472.7" x2="432.5" y2="472.7"/>
<line x1="427.7" y1="438.4" x2="432.5" y2="438.4"/>
<line x1="427.7" y1="404.1" x2="432.5" y2="404.1"/>
<line x1="432.6" y1="637.2" x2="432.6" y2="642.0"/>
<line x1="479.2" y1="637.2" x2="479.2" y2="642.0"/>
<line x1="525.8" y1="637.2" x2="525.8" y2="642.0"/>
<line x1="572.4" y1="637.2" x2="572.4" y2="642.0"/>
<line x1="619.0" y1="637.2" x2="619.0" y2="642.0"/>
<line x1="665.6" y1="637.2" x2="665.6" y2="642.0"/>
<line x1="665.6" y1="410.6" x2="670.4" y2="410.6"/>
<line x1="665.6" y1="444.8" x2="670.4" y2="444.8"/>
<line x1="665.6" y1="478.9" x2="670.4" y2="478.9"/>
<line x1="665.6" y1="513.0" x2="670.4" y2="513.0"/>
<line x1="665.6" y1="547.2" x2="670.4" y2="547.2"/>
<line x1="665.6" y1="581.4" x2="670.4" y2="581.4"/>
<line x1="665.6" y1="615.5" x2="670.4" y2="615.5"/>
</g>
<text x="422.2" y="616.1" font-family='"Liberation Sans", sans-serif' font-size="16.8" font-weight="normal" fill="#111" text-anchor="end" textLength="19.6" lengthAdjust="spacingAndGlyphs" >25</text>
<text x="422.2" y="581.8" font-family='"Liberation Sans", sans-serif' font-size="16.8" font-weight="normal" fill="#111" text-anchor="end" textLength="19.6" lengthAdjust="spacingAndGlyphs" >30</text>
<text x="422.2" y="547.5" font-family='"Liberation Sans", sans-serif' font-size="16.8" font-weight="normal" fill="#111" text-anchor="end" textLength="19.6" lengthAdjust="spacingAndGlyphs" >35</text>
<text x="422.2" y="513.2" font-family='"Liberation Sans", sans-serif' font-size="16.8" font-weight="normal" fill="#111" text-anchor="end" textLength="19.6" lengthAdjust="spacingAndGlyphs" >40</text>
<text x="422.2" y="478.9" font-family='"Liberation Sans", sans-serif' font-size="16.8" font-weight="normal" fill="#111" text-anchor="end" textLength="19.6" lengthAdjust="spacingAndGlyphs" >45</text>
<text x="422.2" y="444.6" font-family='"Liberation Sans", sans-serif' font-size="16.8" font-weight="normal" fill="#111" text-anchor="end" textLength="19.6" lengthAdjust="spacingAndGlyphs" >50</text>
<text x="422.2" y="410.3" font-family='"Liberation Sans", sans-serif' font-size="16.8" font-weight="normal" fill="#111" text-anchor="end" textLength="19.6" lengthAdjust="spacingAndGlyphs" >55</text>
<text x="432.6" y="659.3" font-family='"Liberation Sans", sans-serif' font-size="16.8" font-weight="normal" fill="#111" text-anchor="middle" textLength="9.6" lengthAdjust="spacingAndGlyphs" >0</text>
<text x="479.2" y="659.3" font-family='"Liberation Sans", sans-serif' font-size="16.8" font-weight="normal" fill="#111" text-anchor="middle" textLength="9.6" lengthAdjust="spacingAndGlyphs" >1</text>
<text x="525.8" y="659.3" font-family='"Liberation Sans", sans-serif' font-size="16.8" font-weight="normal" fill="#111" text-anchor="middle" textLength="9.6" lengthAdjust="spacingAndGlyphs" >2</text>
<text x="572.4" y="659.3" font-family='"Liberation Sans", sans-serif' font-size="16.8" font-weight="normal" fill="#111" text-anchor="middle" textLength="9.6" lengthAdjust="spacingAndGlyphs" >3</text>
<text x="619.0" y="659.3" font-family='"Liberation Sans", sans-serif' font-size="16.8" font-weight="normal" fill="#111" text-anchor="middle" textLength="9.6" lengthAdjust="spacingAndGlyphs" >4</text>
<text x="665.6" y="659.3" font-family='"Liberation Sans", sans-serif' font-size="16.8" font-weight="normal" fill="#111" text-anchor="middle" textLength="9.6" lengthAdjust="spacingAndGlyphs" >5</text>
<text x="676.4" y="416.8" font-family='"Liberation Sans", sans-serif' font-size="16.8" font-weight="normal" fill="#111" text-anchor="start" textLength="56.2" lengthAdjust="spacingAndGlyphs" >738.40</text>
<text x="676.4" y="450.9" font-family='"Liberation Sans", sans-serif' font-size="16.8" font-weight="normal" fill="#111" text-anchor="start" textLength="56.2" lengthAdjust="spacingAndGlyphs" >738.35</text>
<text x="676.4" y="485.1" font-family='"Liberation Sans", sans-serif' font-size="16.8" font-weight="normal" fill="#111" text-anchor="start" textLength="56.2" lengthAdjust="spacingAndGlyphs" >738.30</text>
<text x="676.4" y="519.2" font-family='"Liberation Sans", sans-serif' font-size="16.8" font-weight="normal" fill="#111" text-anchor="start" textLength="56.2" lengthAdjust="spacingAndGlyphs" >738.25</text>
<text x="676.4" y="553.4" font-family='"Liberation Sans", sans-serif' font-size="16.8" font-weight="normal" fill="#111" text-anchor="start" textLength="56.2" lengthAdjust="spacingAndGlyphs" >738.20</text>
<text x="676.4" y="587.6" font-family='"Liberation Sans", sans-serif' font-size="16.8" font-weight="normal" fill="#111" text-anchor="start" textLength="56.2" lengthAdjust="spacingAndGlyphs" >738.15</text>
<text x="676.4" y="621.7" font-family='"Liberation Sans", sans-serif' font-size="16.8" font-weight="normal" fill="#111" text-anchor="start" textLength="56.2" lengthAdjust="spacingAndGlyphs" >738.10</text>
<text x="549.1" y="680.4" font-family='"Liberation Sans", sans-serif' font-size="16.6" font-weight="normal" fill="#111" text-anchor="middle" textLength="107.8" lengthAdjust="spacingAndGlyphs" >Distance, µm</text>
<text x="0.0" y="0.0" font-family='"Liberation Sans", sans-serif' font-size="16.2" font-weight="normal" fill="#111" text-anchor="middle" textLength="136.5" lengthAdjust="spacingAndGlyphs" transform="translate(394,521.0) rotate(-90)">Temperature, °C</text>
<text transform="translate(751.2,521.3) rotate(-90) scale(1.17,1)" font-family='"Liberation Sans", sans-serif' font-size="16.6" fill="#111" text-anchor="middle">λ<tspan font-size="11.8" dy="3">center</tspan><tspan dy="-3">, nm</tspan></text>
<text x="456.3" y="422.1" font-family='"Liberation Sans", sans-serif' font-size="16.8" font-weight="normal" fill="#111" text-anchor="start" textLength="67.4" lengthAdjust="spacingAndGlyphs" >0.25 µm</text>
<text x="382.6" y="394.9" font-family='"Liberation Sans", sans-serif' font-size="16.4" font-weight="bold" fill="#000" text-anchor="middle" textLength="10.0" lengthAdjust="spacingAndGlyphs" >c</text>
</svg>
</body></html>
